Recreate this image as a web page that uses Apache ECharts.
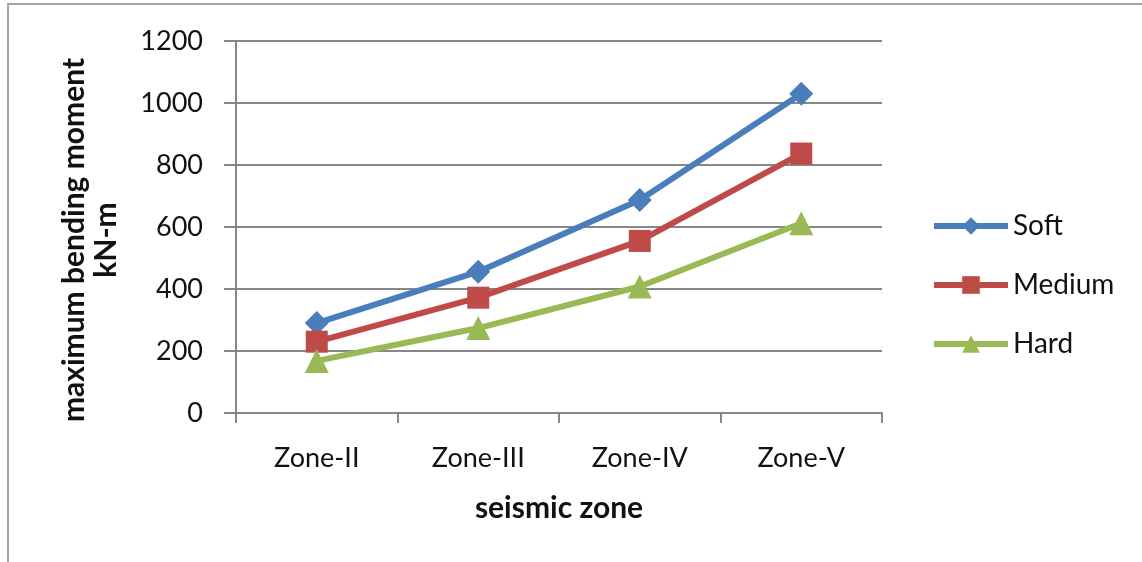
<!DOCTYPE html>
<html>
<head>
<meta charset="utf-8">
<script src="https://cdn.jsdelivr.net/npm/echarts@6/dist/echarts.min.js"></script>
<style>
  html, body { margin: 0; padding: 0; background: #fff; }
  #wrap { position: relative; width: 1142px; height: 562px; overflow: hidden; }
  #frame {
    position: absolute; left: 7px; top: 3px; width: 1200px; height: 600px;
    border-top: 2px solid #a6a6a6; border-left: 2px solid #a6a6a6;
  }
  #chart { position: absolute; left: 0; top: 0; width: 1142px; height: 562px; }
</style>
</head>
<body>
<div id="wrap">
  <div id="frame"></div>
  <div id="chart"></div>
</div>
<script>
const zones = ["Zone-II", "Zone-III", "Zone-IV", "Zone-V"];
const soft = [290, 456, 687, 1030];
const medium = [230, 372, 555, 837];
const hard = [168, 274, 408, 612];
const yTicks = { min: 0, max: 1200, step: 200 };

const font = "Lato, 'Liberation Sans', sans-serif";
const gridColor = "#878787";

let myChart = echarts.init(document.getElementById("chart"));

function lineSeries(name, data, color, symbol, size) {
  return {
    name: name,
    type: "line",
    data: data,
    symbol: symbol,
    symbolSize: size,
    lineStyle: { color: color, width: 6 },
    itemStyle: { color: color },
    animation: false,
  };
}

let option = {
  backgroundColor: "transparent",
  grid: { left: 236, right: 260, top: 41, bottom: 149 },
  legend: {
    orient: "vertical",
    left: 926,
    top: 207,
    itemWidth: 74,
    itemHeight: 22,
    itemGap: 31,
    lineStyle: { width: 6 },
    textStyle: { fontFamily: font, fontSize: 28, color: "#111" },
    data: ["Soft", "Medium", "Hard"],
  },
  xAxis: {
    type: "category",
    data: zones,
    boundaryGap: true,
    name: "seismic zone",
    nameLocation: "middle",
    nameGap: 80,
    nameTextStyle: { fontFamily: font, fontSize: 30, fontWeight: "bold", color: "#111" },
    axisLine: { lineStyle: { color: gridColor, width: 2 } },
    axisTick: { show: true, length: 10, lineStyle: { color: gridColor, width: 2 } },
    axisLabel: { fontFamily: font, fontSize: 27, color: "#111", margin: 32 },
    splitLine: { show: false },
  },
  yAxis: {
    type: "value",
    min: yTicks.min,
    max: yTicks.max,
    interval: yTicks.step,
    name: "maximum bending moment\nkN-m",
    nameLocation: "middle",
    nameGap: 114,
    nameRotate: 90,
    nameTextStyle: {
      fontFamily: font, fontSize: 30, fontWeight: "bold", color: "#111", lineHeight: 32,
      padding: [0, 26, 0, 0],
    },
    axisLine: { show: true, lineStyle: { color: gridColor, width: 2 } },
    axisTick: { show: true, length: 12, lineStyle: { color: gridColor, width: 2 } },
    axisLabel: {
      fontFamily: font, fontSize: 27, color: "#111", margin: 33,
      formatter: (v) => String(v),
    },
    splitLine: { show: true, lineStyle: { color: gridColor, width: 2 } },
  },
  series: [
    lineSeries("Soft", soft, "#4a7ebb", "diamond", 24),
    lineSeries("Medium", medium, "#be4b48", "rect", 22),
    lineSeries("Hard", hard, "#98b954", "triangle", 24),
  ],
};
myChart.setOption(option, true);
</script>
</body>
</html>
